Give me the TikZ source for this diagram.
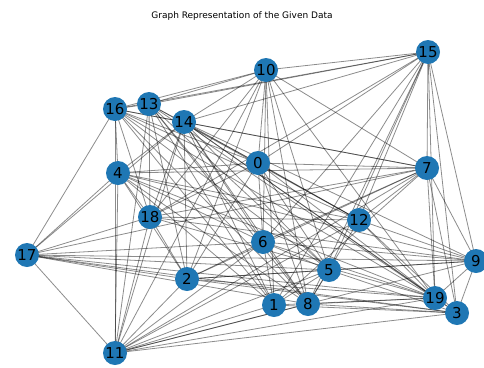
\documentclass[tikz,border=0pt]{standalone}
\usepackage{fontspec}
\setmainfont{DejaVu Sans}
\usepackage{xcolor}
\usepackage{tikz}
\usetikzlibrary{positioning, calc}
\definecolor{nxblue}{HTML}{1F77B4}
\pgfdeclarelayer{background}
\pgfsetlayers{background,main}

\begin{document}
\begin{tikzpicture}[
    x=1pt, y=-1pt,
    vertex/.style={circle, fill=nxblue, draw=none, minimum size=24pt, inner sep=0pt,
                   font=\fontsize{15}{15}\selectfont},
    link/.style={draw=black, opacity=0.45, line width=0.8pt},
    caption/.style={font=\fontsize{9}{10}\selectfont}
]
\useasboundingbox (0,0) rectangle (484,367);
\node[caption] (title) at (242,16) {Graph Representation of the Given Data};

% vertices, placed as the layout gave them
\foreach \v/\px/\py in {0/258/163, 1/274/305, 2/187/279, 3/457/313, 4/118/173,
    5/329/270, 6/263/242, 7/427/168, 8/308/304, 9/476/261, 10/266/70,
    11/115/353, 12/359/220, 13/149/104, 14/184/122, 15/428/52, 16/115/109,
    17/27/255, 18/150/217, 19/435/298} {
    \node[vertex] (n\v) at (\px,\py) {\v};
}

% edges go underneath the vertices
\begin{pgfonlayer}{background}
\foreach \a/\b in {0/2,0/4,0/5,0/6,0/7,0/8,0/10,0/12,0/13,0/15,0/16,0/18,0/19,
    1/4,1/5,1/6,1/7,1/10,1/11,1/13,1/14,1/15,1/16,1/19,1/3,
    2/4,2/5,2/6,2/7,2/9,2/10,2/11,2/13,2/14,2/17,2/18,2/19,2/3,
    3/5,3/7,3/8,3/9,3/11,3/12,3/14,3/15,3/17,3/19,
    4/6,4/7,4/9,4/11,4/12,4/14,4/16,4/17,4/18,4/19,4/8,
    5/6,5/8,5/9,5/10,5/11,5/13,5/14,5/15,5/16,5/17,
    6/7,6/9,6/10,6/11,6/13,6/14,6/15,6/17,6/19,6/8,
    7/9,7/10,7/11,7/12,7/14,7/15,7/16,7/17,7/18,7/19,
    8/10,8/11,8/12,8/13,8/14,8/15,8/16,8/19,8/17,
    9/12,9/14,9/15,9/17,9/18,9/19,9/11,
    10/11,10/13,10/14,10/15,10/16,10/18,10/19,
    11/13,11/14,11/16,11/17,11/18,11/19,11/12,
    12/13,12/14,12/16,12/18,12/19,12/15,
    13/15,13/16,13/18,13/19,
    14/15,14/16,14/18,14/19,14/17,
    15/16,15/18,15/19,
    16/17,16/18,16/19,
    17/18,17/19,
    18/19} {
    \draw[link] (n\a.center) -- (n\b.center);
}
\end{pgfonlayer}
\end{tikzpicture}
\end{document}
